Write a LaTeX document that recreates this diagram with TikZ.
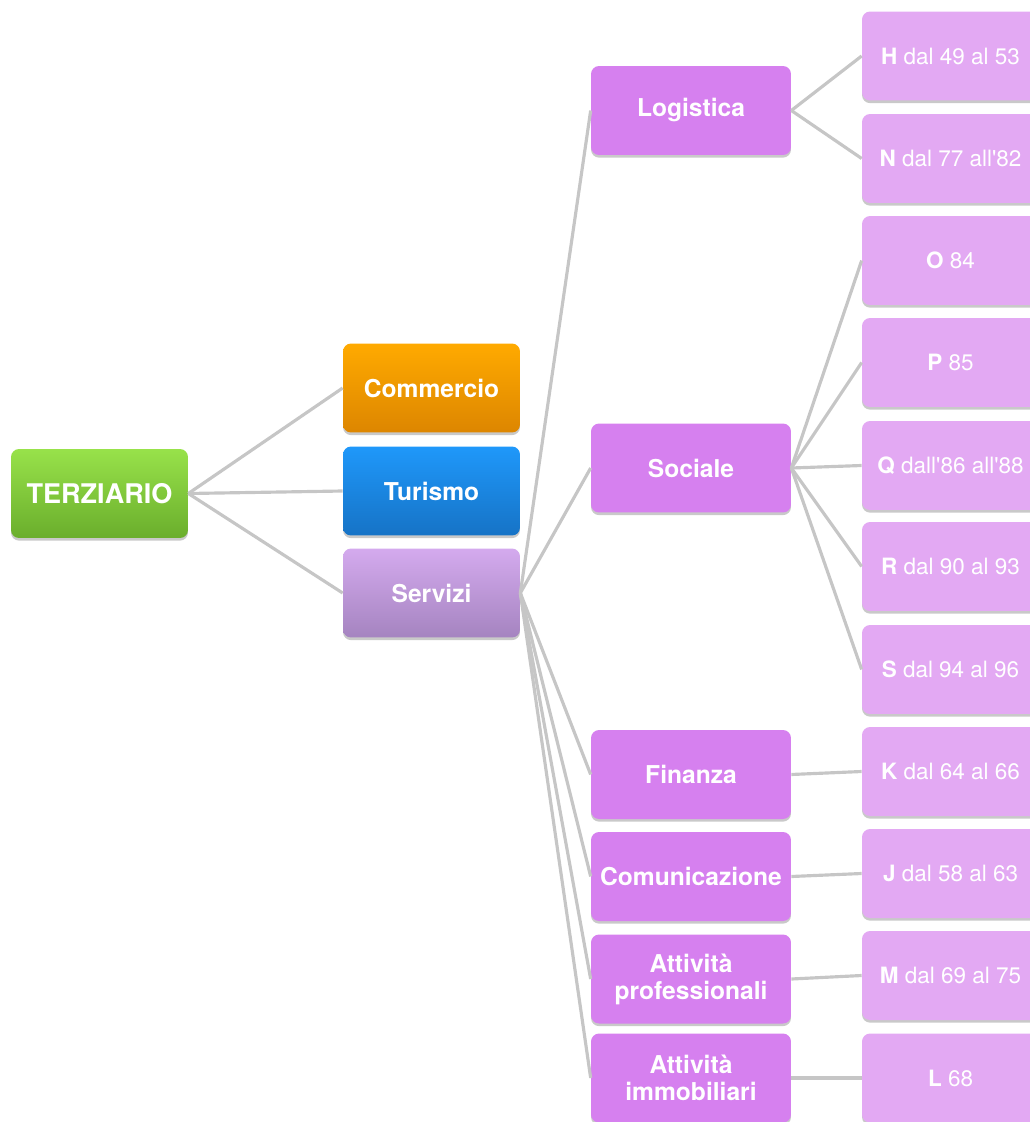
\documentclass[tikz,border=0pt]{standalone}
\usepackage{fontspec}
\setmainfont{TeX Gyre Heros}
\usetikzlibrary{shadows}
\definecolor{link}{RGB}{198,198,198}
\definecolor{greentop}{RGB}{152,226,74}
\definecolor{greenbot}{RGB}{106,174,44}
\definecolor{orangetop}{RGB}{255,170,0}
\definecolor{orangebot}{RGB}{221,134,0}
\definecolor{bluetop}{RGB}{31,152,250}
\definecolor{bluebot}{RGB}{22,115,198}
\definecolor{lilactop}{RGB}{212,170,238}
\definecolor{lilacbot}{RGB}{165,132,192}
\definecolor{branch}{RGB}{214,128,239}
\definecolor{leaf}{RGB}{227,169,243}
\newcommand{\ap}{\textquotesingle}

\begin{document}
\begin{tikzpicture}[x=0.02cm, y=-0.02cm,
  box/.style={rounded corners=0.16cm, text=white, align=center,
    minimum height=1.78cm, inner sep=0pt,
    font=\bfseries\fontsize{14}{15.3}\selectfont,
    drop shadow={shadow xshift=0pt, shadow yshift=-1.5pt, opacity=0.3, fill=black!70}},
  topbox/.style={box, minimum width=3.54cm},
  branchbox/.style={box, minimum width=4cm, fill=branch},
  leafbox/.style={box, minimum width=3.54cm, fill=leaf,
    font=\fontsize{12.8}{14}\selectfont},
  link/.style={draw=link, line width=1.8pt}]
\useasboundingbox (0,0) rectangle (1029,1122);

% root and first level
\node[topbox, top color=greentop, bottom color=greenbot,
  font=\bfseries\fontsize{15.4}{16}\selectfont] (terz) at (99.5,493.5) {TERZIARIO};
\node[topbox, top color=orangetop, bottom color=orangebot] (comm) at (431.5,388) {Commercio};
\node[topbox, top color=bluetop, bottom color=bluebot] (tur) at (431.5,491) {Turismo};
\node[topbox, top color=lilactop, bottom color=lilacbot] (serv) at (431.5,593) {Servizi};

% second level
\node[branchbox] (log) at (691,110.5) {Logistica};
\node[branchbox] (soc) at (691,468) {Sociale};
\node[branchbox] (fin) at (691,774.5) {Finanza};
\node[branchbox] (com) at (691,876.5) {Comunicazione};
\node[branchbox] (prof) at (691,979) {Attività\\professionali};
\node[branchbox] (imm) at (691,1078) {Attività\\immobiliari};

% sections (cut by the right edge)
\node[leafbox] (h) at (950.5,56) {\textbf{H} dal 49 al 53};
\node[leafbox] (n) at (950.5,158.5) {\textbf{N} dal 77 all\ap82};
\node[leafbox] (o) at (950.5,260.5) {\textbf{O} 84};
\node[leafbox] (p) at (950.5,362.5) {\textbf{P} 85};
\node[leafbox] (q) at (950.5,465.5) {\textbf{Q} dall\ap86 all\ap88};
\node[leafbox] (r) at (950.5,566.5) {\textbf{R} dal 90 al 93};
\node[leafbox] (s) at (950.5,669.5) {\textbf{S} dal 94 al 96};
\node[leafbox] (k) at (950.5,771.5) {\textbf{K} dal 64 al 66};
\node[leafbox] (j) at (950.5,873.5) {\textbf{J} dal 58 al 63};
\node[leafbox] (m) at (950.5,975.5) {\textbf{M} dal 69 al 75};
\node[leafbox] (l) at (950.5,1078) {\textbf{L} 68};

% connectors
\foreach \c in {comm,tur,serv} \draw[link] (terz.east) -- (\c.west);
\foreach \c in {log,soc,fin,com,prof,imm} \draw[link] (serv.east) -- (\c.west);
\foreach \c in {h,n} \draw[link] (log.east) -- (\c.west);
\foreach \c in {o,p,q,r,s} \draw[link] (soc.east) -- (\c.west);
\draw[link] (fin.east) -- (k.west);
\draw[link] (com.east) -- (j.west);
\draw[link] (prof.east) -- (m.west);
\draw[link] (imm.east) -- (l.west);
\end{tikzpicture}
\end{document}
